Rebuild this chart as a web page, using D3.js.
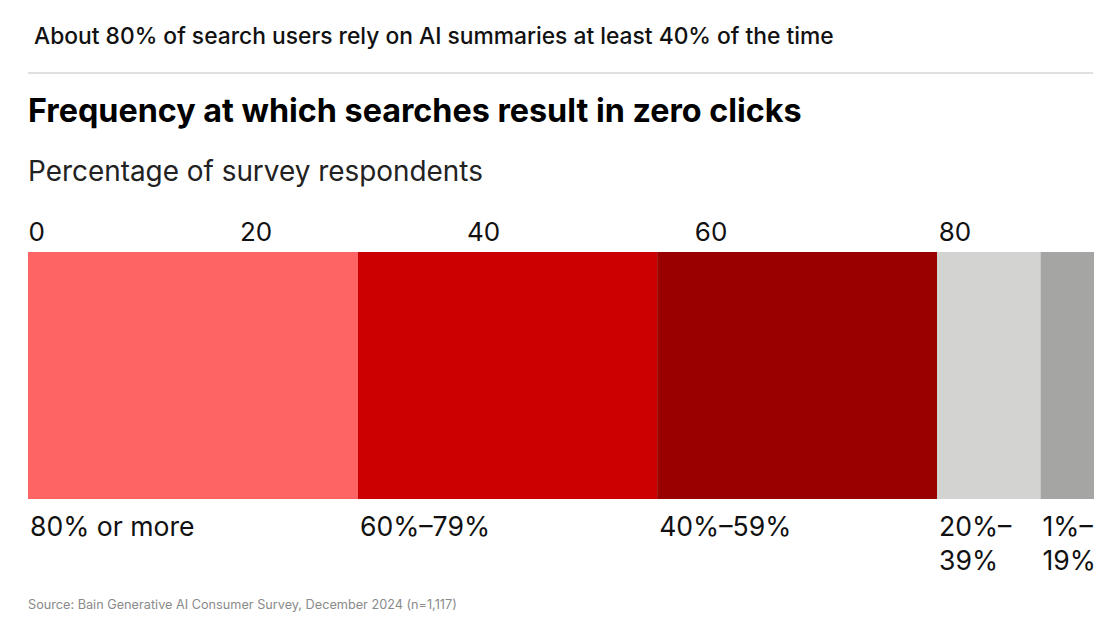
<!DOCTYPE html>
<html>
<head>
<meta charset="utf-8">
<script src="https://cdn.jsdelivr.net/npm/d3@7"></script>
<style>
  html, body { margin: 0; padding: 0; background: #fff; }
  svg { display: block; font-family: Inter, "Noto Sans", sans-serif; }
</style>
</head>
<body>
<svg id="chart" width="1119" height="625"></svg>
<script>
// share of respondents per zero-click frequency band (the rest, ~6%, not shown)
const categories = ['80% or more', '60%–79%', '40%–59%', '20%–\n39%', '1%–\n19%'];
const values = [29.0, 26.3, 24.6, 9.1, 4.7];
const colors = ['#ff6464', '#cc0000', '#990000', '#d3d3d1', '#a5a5a3'];
const tickValues = [0, 20, 40, 60, 80];

const headline = 'About 80% of search users rely on AI summaries at least 40% of the time';
const title = 'Frequency at which searches result in zero clicks';
const subtitle = 'Percentage of survey respondents';
const source = 'Source: Bain Generative AI Consumer Survey, December 2024 (n=1,117)';

const svg = d3.select('#chart');
const left = 28, right = 1094;
const barTop = 252, barBottom = 499;

const total = d3.sum(values);
const x = d3.scaleLinear().domain([0, total]).range([left, right]);

// stacked segments
let acc = 0;
const segs = values.map((v, i) => {
  const s = { start: acc, end: acc + v, label: categories[i], color: colors[i] };
  acc += v;
  return s;
});

// header
svg.append('text')
  .attr('x', 34).attr('y', 44)
  .attr('font-size', 22.8).attr('font-weight', 500).attr('fill', '#111')
  .text(headline);

svg.append('line')
  .attr('x1', left).attr('x2', 1093)
  .attr('y1', 73).attr('y2', 73)
  .attr('stroke', '#d6d6d6').attr('stroke-width', 1.5);

svg.append('text')
  .attr('x', left).attr('y', 122)
  .attr('font-size', 32.3).attr('font-weight', 700).attr('fill', '#000')
  .text(title);

svg.append('text')
  .attr('x', left).attr('y', 181)
  .attr('font-size', 27.9).attr('font-weight', 400).attr('fill', '#222')
  .text(subtitle);

// axis labels on top, no line, no ticks
const axis = d3.axisTop(x).tickValues(tickValues).tickSize(0).tickPadding(0);
const gAxis = svg.append('g')
  .attr('transform', `translate(0,${241})`)
  .call(axis);
gAxis.select('.domain').remove();
gAxis.selectAll('text')
  .attr('font-family', 'Inter, "Noto Sans", sans-serif')
  .attr('font-size', 26)
  .attr('fill', '#111')
  .attr('dy', 0)
  .attr('text-anchor', (d, i) => (i === 0 || i === tickValues.length - 1) ? 'start' : 'middle');

// bars
svg.append('g').selectAll('rect')
  .data(segs)
  .join('rect')
  .attr('x', d => x(d.start))
  .attr('y', barTop)
  .attr('width', d => x(d.end) - x(d.start))
  .attr('height', barBottom - barTop)
  .attr('fill', d => d.color);

// category labels below
const labels = svg.append('g').selectAll('text')
  .data(segs)
  .join('text')
  .attr('x', d => x(d.start) + 2)
  .attr('y', 536)
  .attr('font-size', 26.6)
  .attr('fill', '#111');

labels.selectAll('tspan')
  .data(d => d.label.split('\n').map(t => ({ t, x: x(d.start) + 2 })))
  .join('tspan')
  .attr('x', d => d.x)
  .attr('dy', (d, i) => i === 0 ? 0 : 34)
  .text(d => d.t);

svg.append('text')
  .attr('x', left).attr('y', 609)
  .attr('font-size', 12.7).attr('fill', '#8a8a8a')
  .text(source);
</script>
</body>
</html>
